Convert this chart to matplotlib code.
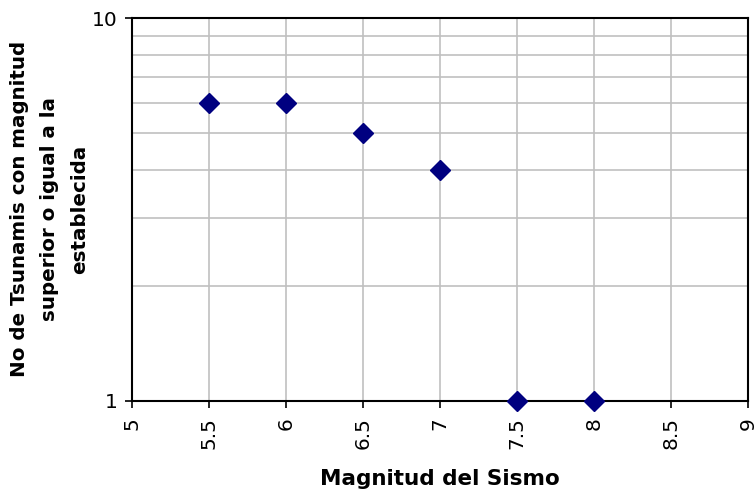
import matplotlib
matplotlib.use('Agg')
import matplotlib.pyplot as plt
from matplotlib.ticker import FixedLocator, NullFormatter

# data
magnitud = [5.5, 6, 6.5, 7, 7.5, 8]
tsunamis = [6, 6, 5, 4, 1, 1]
x_ticks = [5, 5.5, 6, 6.5, 7, 7.5, 8, 8.5, 9]
x_tick_labels = ['5', '5.5', '6', '6.5', '7', '7.5', '8', '8.5', '9']

fig = plt.figure(figsize=(7.54, 5.01), dpi=100)
ax = fig.add_axes([0.175, 0.2, 0.817, 0.764])

ax.set_yscale('log')
ax.set_ylim(1, 10)
ax.set_xlim(5, 9)

ax.set_xticks(x_ticks)
ax.set_xticklabels(x_tick_labels, rotation=90, fontsize=14.5)
ax.set_yticks([1, 10])
ax.set_yticklabels(['1', '10'], fontsize=14.5)
ax.yaxis.set_minor_locator(FixedLocator([2, 3, 4, 5, 6, 7, 8, 9]))
ax.yaxis.set_minor_formatter(NullFormatter())
ax.tick_params(axis='y', which='minor', length=0)
ax.tick_params(axis='both', which='major', length=5, width=1.2, direction='out', color='black')
ax.tick_params(axis='x', which='major', pad=7)
ax.tick_params(axis='y', which='major', pad=5)

ax.grid(True, which='both', color='#c0c0c0', linewidth=1.2)
ax.set_axisbelow(True)
for s in ax.spines.values():
    s.set_linewidth(1.5)
    s.set_color('black')

ax.plot(magnitud, tsunamis, linestyle='none', marker='D', markersize=10.5,
        color='#000080', clip_on=False, zorder=5)

ax.set_xlabel('Magnitud del Sismo', fontsize=15.5, fontweight='bold', labelpad=14)
ax.set_ylabel('No de Tsunamis con magnitud\nsuperior o igual a la\nestablecida',
              fontsize=14.3, fontweight='bold', labelpad=2, linespacing=1.75)

fig.savefig('out.png', dpi=100)
